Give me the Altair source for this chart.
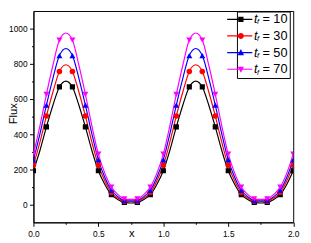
import altair as alt
import pandas as pd

# ---------------- data ----------------
x_grid = [0.0, 0.05, 0.1, 0.15, 0.2, 0.25, 0.3, 0.35, 0.4, 0.45, 0.5, 0.55, 0.6, 0.65,
          0.7, 0.75, 0.8, 0.85, 0.9, 0.95, 1.0, 1.05, 1.1, 1.15, 1.2, 1.25, 1.3, 1.35,
          1.4, 1.45, 1.5, 1.55, 1.6, 1.65, 1.7, 1.75, 1.8, 1.85, 1.9, 1.95, 2.0]

flux_10 = [193, 308, 442, 565, 669, 702, 669, 565, 442, 308, 193, 115, 57, 30, 13, 10, 13, 30, 57, 115,
           193, 308, 442, 565, 669, 702, 669, 565, 442, 308, 193, 115, 57, 30, 13, 10, 13, 30, 57, 115, 193]
flux_30 = [224, 355, 504, 640, 757, 795, 757, 640, 504, 355, 224, 135, 69, 38, 20, 17, 20, 38, 69, 135,
           224, 355, 504, 640, 757, 795, 757, 640, 504, 355, 224, 135, 69, 38, 20, 17, 20, 38, 69, 135, 224]
flux_50 = [255, 402, 566, 718, 847, 887, 847, 718, 566, 402, 255, 155, 82, 46, 25, 22, 25, 46, 82, 155,
           255, 402, 566, 718, 847, 887, 847, 718, 566, 402, 255, 155, 82, 46, 25, 22, 25, 46, 82, 155, 255]
flux_70 = [287, 448, 627, 792, 935, 975, 935, 792, 627, 448, 287, 178, 100, 58, 33, 30, 33, 58, 100, 178,
           287, 448, 627, 792, 935, 975, 935, 792, 627, 448, 287, 178, 100, 58, 33, 30, 33, 58, 100, 178, 287]

series_labels = ["10", "30", "50", "70"]
series_colors = ["#000000", "#ff0000", "#0000ff", "#ff00ff"]
marker_shapes = ["square", "circle", "triangle-up", "triangle-down"]
marker_sizes = [28, 32, 38, 38]

x_ticks = [0.0, 0.25, 0.5, 0.75, 1.0, 1.25, 1.5, 1.75, 2.0]
y_ticks = [0, 100, 200, 300, 400, 500, 600, 700, 800, 900, 1000]

rows = []
for lab, vals in zip(series_labels, [flux_10, flux_30, flux_50, flux_70]):
    for xv, yv in zip(x_grid, vals):
        rows.append({"x": xv, "flux": yv, "series": lab,
                     "marker": bool(round(xv * 100) % 10 == 0)})
df = pd.DataFrame(rows)

t_keys = ["t" + s for s in series_labels]
f_keys = ["f" + s for s in series_labels]
leg_df = pd.DataFrame({"series": series_labels, "lt": t_keys, "lf": f_keys})

# ---------------- legend symbol paths (line + marker) ----------------
SYM = 13.0          # nominal legend symbol width (px) = label font size
UNIT = SYM / 2.0    # px per path unit


def P(v):
    return f"{v / UNIT:.4f}"


def line_rect():
    t = 0.6
    return f"M{P(-18)},{P(-t)}L{P(7.7)},{P(-t)}L{P(7.7)},{P(t)}L{P(-18)},{P(t)}Z"


cx = -4.0
h = 2.7
sq = f"M{P(cx-h)},{P(-h)}L{P(cx+h)},{P(-h)}L{P(cx+h)},{P(h)}L{P(cx-h)},{P(h)}Z"
r = 3.0
k = 0.5523 * r
circ = (f"M{P(cx-r)},0C{P(cx-r)},{P(-k)} {P(cx-k)},{P(-r)} {P(cx)},{P(-r)}"
        f"C{P(cx+k)},{P(-r)} {P(cx+r)},{P(-k)} {P(cx+r)},0"
        f"C{P(cx+r)},{P(k)} {P(cx+k)},{P(r)} {P(cx)},{P(r)}"
        f"C{P(cx-k)},{P(r)} {P(cx-r)},{P(k)} {P(cx-r)},0Z")
tu = f"M{P(cx)},{P(-3.6)}L{P(cx+3.2)},{P(2.6)}L{P(cx-3.2)},{P(2.6)}Z"
td = f"M{P(cx-3.2)},{P(-2.6)}L{P(cx+3.2)},{P(-2.6)}L{P(cx)},{P(3.6)}Z"
legend_paths = [line_rect() + m for m in [sq, circ, tu, td]]

FONT = "Liberation Sans"

x_axis = alt.Axis(
    title="x", values=x_ticks,
    labelExpr="datum.value % 0.5 == 0 ? format(datum.value, '.1f') : ''",
    labelOverlap=False, labelFlush=False,
    tickSize={"condition": {"test": "datum.value % 0.5 != 0", "value": 2}, "value": 4},
    labelPadding=3, labelFont=FONT, labelFontSize=8.5, labelColor="black",
    titleFont=FONT, titleFontSize=11.5, titleFontWeight="normal", titleColor="black",
    titleX=100, titleY=14, titleBaseline="alphabetic", titleAlign="center",
    domainColor="black", tickColor="black", grid=False)

y_axis = alt.Axis(
    title="Flux", values=y_ticks,
    labelExpr="datum.value % 200 == 0 ? format(datum.value, 'd') : ''",
    labelOverlap=False,
    tickSize={"condition": {"test": "datum.value % 200 != 0", "value": 2}, "value": 4},
    labelPadding=2.5, labelFont=FONT, labelFontSize=8.5, labelColor="black",
    titleFont=FONT, titleFontSize=11.5, titleFontWeight="normal", titleColor="black",
    titleAngle=270, titleX=-17, titleY=104.5, titleBaseline="alphabetic", titleAlign="center",
    domainColor="black", tickColor="black", grid=False)

X = alt.X("x:Q", scale=alt.Scale(domain=[0, 2], nice=False, zero=False), axis=x_axis)
Y = alt.Y("flux:Q", scale=alt.Scale(domain=[-100, 1100], nice=False, zero=False), axis=y_axis)
color_scale = alt.Scale(domain=series_labels, range=series_colors)
C = alt.Color("series:N", scale=color_scale, legend=None)

legA = alt.Legend(orient="none", legendX=208, legendY=0.5, title=None, direction="vertical",
                  padding=1.5, strokeColor="black",
                  labelExpr="'= ' + datum.label", labelFont=FONT, labelFontSize=13,
                  labelColor="black", labelOffset=11.5, rowPadding=3,
                  symbolSize=SYM * SYM, symbolStrokeWidth=0, symbolOpacity=1,
                  labelOverlap=False)

# legend layer goes first so its explicit legend settings win the merge
legend_a = alt.Chart(leg_df).mark_point(filled=True, opacity=0).encode(
    color=alt.Color("series:N", scale=color_scale, legend=legA),
    shape=alt.Shape("series:N", scale=alt.Scale(domain=series_labels, range=legend_paths), legend=legA))

legT = alt.Legend(orient="none", legendX=212.5, legendY=2.0, title=None, direction="vertical",
                  padding=0, values=t_keys, labelExpr="'t'",
                  labelFont=FONT, labelFontSize=13,
                  labelFontStyle="italic", labelColor="black", labelOffset=0, rowPadding=3,
                  symbolSize=0, symbolStrokeWidth=0, symbolOpacity=0, labelOverlap=False)

legend_t = alt.Chart(leg_df).mark_point(filled=True, opacity=0).encode(
    size=alt.Size("lt:O", scale=alt.Scale(domain=t_keys, range=[0.001, 0.001]), legend=legT))

legF = alt.Legend(orient="none", legendX=221, legendY=7.5, title=None, direction="vertical",
                  padding=0, values=f_keys, labelExpr="'f'",
                  labelFont=FONT, labelFontSize=7.5,
                  labelFontStyle="italic", labelColor="black", labelOffset=0, rowPadding=8.5,
                  symbolSize=0, symbolStrokeWidth=0, symbolOpacity=0, labelOverlap=False)

legend_f = alt.Chart(leg_df).mark_point(filled=True).encode(
    opacity=alt.Opacity("lf:O", scale=alt.Scale(domain=f_keys, range=[0.001, 0.001]), legend=legF))

lines = alt.Chart(df).mark_line(interpolate="monotone", strokeWidth=1.2, clip=True).encode(
    x=X, y=Y, color=C)

point_layers = []
for lab, shp, sz in zip(series_labels, marker_shapes, marker_sizes):
    point_layers.append(
        alt.Chart(df).transform_filter(
            f"datum.marker && datum.series == '{lab}'"
        ).mark_point(filled=True, shape=shp, size=sz, opacity=1, clip=True).encode(
            x=X, y=Y, color=C)
    )

chart = alt.layer(legend_a, legend_t, legend_f, lines, *point_layers).properties(
    width=265.5, height=216,
    autosize=alt.AutoSizeParams(type="none"),
    padding={"left": 26, "top": 0.5, "right": 10, "bottom": 17},
).configure_view(stroke="black", strokeWidth=1)

chart.save("out.html", embed_options={"renderer": "svg", "actions": False})
